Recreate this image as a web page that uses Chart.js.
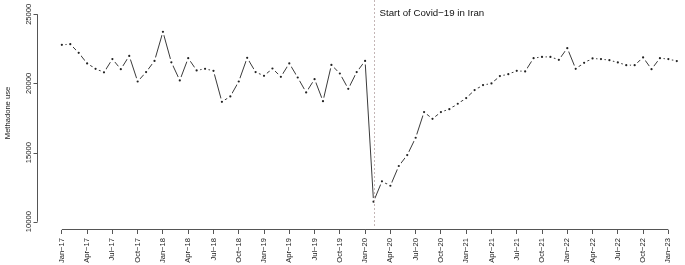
<!DOCTYPE html>
<html>
<head>
<meta charset="utf-8">
<script src="https://cdn.jsdelivr.net/npm/chart.js@4"></script>
<style>
  html, body { margin: 0; padding: 0; background: #fff; }
</style>
</head>
<body>
<canvas id="chart" width="685" height="265"></canvas>
<script>
// ─── Data ─────────────────────────────────────────────────────────────────────

const months = [
    'Jan−17','Feb−17','Mar−17','Apr−17','May−17','Jun−17','Jul−17','Aug−17','Sep−17','Oct−17','Nov−17','Dec−17',
    'Jan−18','Feb−18','Mar−18','Apr−18','May−18','Jun−18','Jul−18','Aug−18','Sep−18','Oct−18','Nov−18','Dec−18',
    'Jan−19','Feb−19','Mar−19','Apr−19','May−19','Jun−19','Jul−19','Aug−19','Sep−19','Oct−19','Nov−19','Dec−19',
    'Jan−20','Feb−20','Mar−20','Apr−20','May−20','Jun−20','Jul−20','Aug−20','Sep−20','Oct−20','Nov−20','Dec−20',
    'Jan−21','Feb−21','Mar−21','Apr−21','May−21','Jun−21','Jul−21','Aug−21','Sep−21','Oct−21','Nov−21','Dec−21',
    'Jan−22','Feb−22','Mar−22','Apr−22','May−22','Jun−22','Jul−22','Aug−22','Sep−22','Oct−22','Nov−22','Dec−22',
    'Jan−23','Feb−23'
];

const methadone = [
    22790, 22840, 22210, 21450, 21060, 20800, 21760, 21030, 21990, 20140, 20820, 21630,
    23730, 21530, 20220, 21830, 20940, 21060, 20910, 18670, 19060, 20140, 21850, 20820,
    20550, 21080, 20480, 21450, 20430, 19350, 20310, 18720, 21340, 20720, 19610, 20820,
    21630, 11450, 12920, 12600, 14030, 14820, 16070, 17930, 17440, 17930, 18140, 18530,
    18940, 19520, 19880, 20000, 20530, 20670, 20910, 20870, 21830, 21920, 21920, 21710,
    22550, 21060, 21490, 21810, 21760, 21680, 21520, 21320, 21320, 21880, 21030, 21830,
    21760, 21620
];

const tickLabels = [
    'Jan−17','Apr−17','Jul−17','Oct−17','Jan−18','Apr−18','Jul−18','Oct−18','Jan−19',
    'Apr−19','Jul−19','Oct−19','Jan−20','Apr−20','Jul−20','Oct−20','Jan−21','Apr−21',
    'Jul−21','Oct−21','Jan−22','Apr−22','Jul−22','Oct−22','Jan−23'
];

const yTicks = [10000, 15000, 20000, 25000];
const yTitle = 'Methadone use';
const covidMonth = 'Feb−20';
const covidLabel = 'Start of Covid−19 in Iran';

// ─── Helpers ──────────────────────────────────────────────────────────────────

const FONT = 'Liberation Sans, Arial, sans-serif';
const points = methadone.map((v, i) => ({ x: i, y: v }));

// R-style axes: lines only span the tick range, rotated y labels
const rAxes = {
    id: 'rAxes',
    afterDatasetsDraw(chart) {
        const { ctx, chartArea: a, scales: { x } } = chart;
        const cx = Math.round(x.getPixelForValue(months.indexOf(covidMonth))) + 0.5;
        ctx.save();
        ctx.strokeStyle = '#c4b6b6';
        ctx.lineWidth = 1;
        ctx.setLineDash([2, 2]);
        ctx.beginPath();
        ctx.moveTo(cx, a.top - 6);
        ctx.lineTo(cx, a.bottom - 2);
        ctx.stroke();
        ctx.setLineDash([]);
        ctx.fillStyle = '#111';
        ctx.font = `9.7px ${FONT}`;
        ctx.textBaseline = 'middle';
        ctx.fillText(covidLabel, cx + 5, 13);
        ctx.restore();
    },
    afterDraw(chart) {
        const { ctx, chartArea: a, scales: { x, y } } = chart;
        ctx.save();
        ctx.strokeStyle = '#555';
        ctx.lineWidth = 1;

        const xb = Math.round(a.bottom) - 0.5;
        ctx.beginPath();
        ctx.moveTo(x.getPixelForValue(0), xb);
        ctx.lineTo(x.getPixelForValue((tickLabels.length - 1) * 3), xb);
        ctx.stroke();

        const yl = Math.round(a.left) + 0.5;
        ctx.beginPath();
        ctx.moveTo(yl, y.getPixelForValue(yTicks[0]));
        ctx.lineTo(yl, y.getPixelForValue(yTicks[yTicks.length - 1]));
        yTicks.forEach(t => {
            const py = Math.round(y.getPixelForValue(t)) + 0.5;
            ctx.moveTo(yl, py);
            ctx.lineTo(yl - 4, py);
        });
        ctx.stroke();

        ctx.fillStyle = '#222';
        ctx.font = `7.6px ${FONT}`;
        ctx.textAlign = 'center';
        ctx.textBaseline = 'middle';
        yTicks.forEach(t => {
            ctx.save();
            ctx.translate(29, y.getPixelForValue(t));
            ctx.rotate(-Math.PI / 2);
            ctx.fillText(String(t), 0, 0);
            ctx.restore();
        });

        ctx.save();
        ctx.translate(8, 113);
        ctx.rotate(-Math.PI / 2);
        ctx.fillText(yTitle, 0, 0);
        ctx.restore();
        ctx.restore();
    }
};

// ─── Chart ────────────────────────────────────────────────────────────────────

new Chart(document.getElementById('chart'), {
    type: 'line',
    data: {
        datasets: [
            { data: points, borderColor: '#3a3a3a', borderWidth: 1, pointRadius: 0, order: 3 },
            { data: points, showLine: false, pointRadius: 3.6, pointBorderWidth: 0,
              pointBackgroundColor: '#fff', order: 2 },
            { data: points, showLine: false, pointRadius: 1.1, pointBorderWidth: 0,
              pointBackgroundColor: '#222', order: 1 }
        ]
    },
    options: {
        responsive: false,
        animation: false,
        events: [],
        layout: { padding: { top: 6, left: 0, right: 0, bottom: 0 } },
        plugins: { legend: { display: false }, tooltip: { enabled: false } },
        scales: {
            x: {
                type: 'linear',
                min: -2.95,
                max: 73.5,
                afterBuildTicks(scale) { scale.ticks = tickLabels.map((_, k) => ({ value: k * 3 })); },
                afterFit(scale) { scale.height = 35; },
                border: { display: false },
                grid: { drawOnChartArea: false, drawTicks: true, tickLength: 4, color: '#555' },
                ticks: {
                    autoSkip: false,
                    minRotation: 90,
                    maxRotation: 90,
                    padding: 4,
                    color: '#222',
                    font: { family: FONT, size: 7.6 },
                    callback: v => tickLabels[v / 3]
                }
            },
            y: {
                min: 9400,
                max: 25600,
                afterFit(scale) { scale.width = 37; },
                border: { display: false },
                grid: { display: false },
                ticks: { display: false }
            }
        }
    },
    plugins: [rAxes]
});
</script>
</body>
</html>
